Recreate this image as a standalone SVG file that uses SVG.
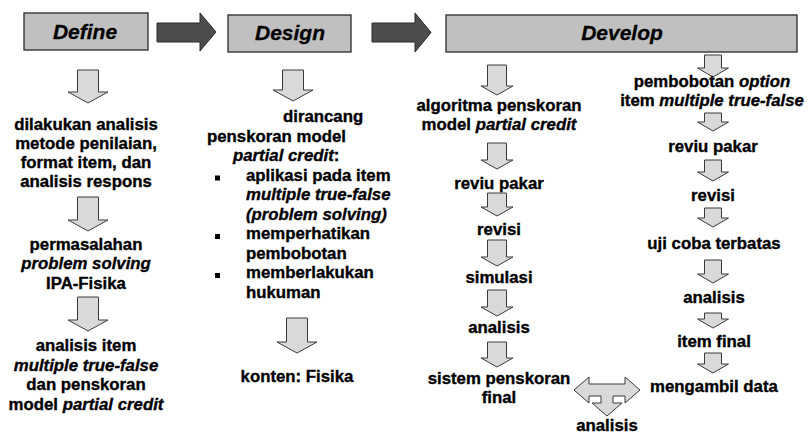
<svg xmlns="http://www.w3.org/2000/svg" width="808" height="436" viewBox="0 0 808 436">
<style>
  .hbox { fill: #c0c0c0; stroke: #2a2a2a; stroke-width: 1.3; }
  .harr { fill: #4d4d4d; stroke: #2a2a2a; stroke-width: 1; }
  .darr { fill: #d9d9d9; stroke: #3a3a3a; stroke-width: 1; }
  .ht { font-family: "Liberation Sans", Arial, sans-serif; font-weight: bold; font-style: italic; font-size: 21px; fill: #000; stroke: #000; stroke-width: 0.3; text-anchor: middle; }
  .t { font-family: "Liberation Sans", Arial, sans-serif; font-weight: bold; font-size: 16.8px; fill: #000; stroke: #000; stroke-width: 0.35; }
  .c { text-anchor: middle; }
  .i { font-style: italic; }
  .bul { fill: #000; }
</style>
<rect width="808" height="436" fill="#ffffff"/>

<g id="define-header">
  <rect class="hbox" x="24" y="13" width="124" height="37"/>
  <text class="ht" x="85" y="39">Define</text>
</g>
<g id="design-header">
  <rect class="hbox" x="228" y="15" width="123" height="37"/>
  <text class="ht" x="290" y="40">Design</text>
</g>
<g id="develop-header">
  <rect class="hbox" x="446" y="15" width="351" height="37"/>
  <text class="ht" x="622" y="40">Develop</text>
</g>

<g id="connectors">
  <path class="harr" d="M157,23 H200 V13 L216,32 L200,51 V42 H157 Z"/>
  <path class="harr" d="M372,23 H415 V13 L431,32.5 L415,52 V42 H372 Z"/>

  <path class="darr" d="M77.5,70 H98.5 V92 H108 L88,103 L68,92 H77.5 Z"/>
  <path class="darr" d="M77.5,197 H98.5 V220 H108 L88,231 L68,220 H77.5 Z"/>
  <path class="darr" d="M77.5,297 H98.5 V320 H108 L88,331 L68,320 H77.5 Z"/>

  <path class="darr" d="M282.5,70 H303.5 V90 H313 L293,101 L273,90 H282.5 Z"/>
  <path class="darr" d="M286.5,318 H307.5 V342 H317 L297,353 L277,342 H286.5 Z"/>

  <path class="darr" d="M487.5,65 H506.5 V86 H513 L497,95 L481,86 H487.5 Z"/>
  <path class="darr" d="M487.5,143 H506.5 V160 H513 L497,169 L481,160 H487.5 Z"/>
  <path class="darr" d="M487.5,193 H506.5 V207 H513 L497,216 L481,207 H487.5 Z"/>
  <path class="darr" d="M487.5,240 H506.5 V257 H513 L497,266 L481,257 H487.5 Z"/>
  <path class="darr" d="M487.5,290 H506.5 V307 H513 L497,316 L481,307 H487.5 Z"/>
  <path class="darr" d="M487.5,342 H506.5 V358 H513 L497,367 L481,358 H487.5 Z"/>

  <path class="darr" d="M704.5,55 H721.5 V68 H728.5 L713,77 L697.5,68 H704.5 Z"/>
  <path class="darr" d="M704.5,113 H721.5 V122 H728.5 L713,131 L697.5,122 H704.5 Z"/>
  <path class="darr" d="M704.5,160 H721.5 V172 H728.5 L713,181 L697.5,172 H704.5 Z"/>
  <path class="darr" d="M704.5,208 H721.5 V218 H728.5 L713,227 L697.5,218 H704.5 Z"/>
  <path class="darr" d="M704.5,260 H721.5 V274 H728.5 L713,283 L697.5,274 H704.5 Z"/>
  <path class="darr" d="M704.5,313 H721.5 V319 H728.5 L713,328 L697.5,319 H704.5 Z"/>
  <path class="darr" d="M704.5,353 H721.5 V364 H728.5 L713,373 L697.5,364 H704.5 Z"/>

  <path class="darr" d="M574,390 L589,377 L589,384 L625,384 L625,377 L640,390 L625,403 L625,396 L613,396 L613,403 L622,403 L607,416 L592,403 L601,403 L601,396 L589,396 L589,403 Z"/>
</g>

<g id="define-analisis">
  <text class="t c" x="86" y="130">dilakukan analisis</text>
  <text class="t c" x="86" y="149">metode penilaian,</text>
  <text class="t c" x="86" y="168">format item, dan</text>
  <text class="t c" x="86" y="187">analisis respons</text>
</g>
<g id="define-permasalahan">
  <text class="t c" x="86" y="250">permasalahan</text>
  <text class="t c i" x="86" y="269">problem solving</text>
  <text class="t c" x="86" y="289">IPA-Fisika</text>
</g>
<g id="define-analisis-item">
  <text class="t c" x="86" y="351">analisis item</text>
  <text class="t c i" x="86" y="371">multiple true-false</text>
  <text class="t c" x="86" y="390">dan penskoran</text>
  <text class="t c" x="86" y="410">model <tspan class="i">partial credit</tspan></text>
</g>

<g id="design-dirancang">
  <text class="t" x="283" y="122">dirancang</text>
  <text class="t" x="207" y="141.5">penskoran model</text>
  <text class="t" x="233" y="161"><tspan class="i">partial credit</tspan>:</text>
  <rect class="bul" x="215" y="175.5" width="5" height="5"/>
  <text class="t" x="246" y="180.5">aplikasi pada item</text>
  <text class="t i" x="246" y="200">multiple true-false</text>
  <text class="t i" x="246" y="219.5">(problem solving)</text>
  <rect class="bul" x="215" y="234" width="5" height="5"/>
  <text class="t" x="246" y="239">memperhatikan</text>
  <text class="t" x="246" y="258.5">pembobotan</text>
  <rect class="bul" x="215" y="273" width="5" height="5"/>
  <text class="t" x="246" y="278">memberlakukan</text>
  <text class="t" x="246" y="297.5">hukuman</text>
</g>
<g id="design-konten">
  <text class="t c" x="297" y="382">konten: Fisika</text>
</g>

<g id="dev-algoritma">
  <text class="t c" x="499" y="111">algoritma penskoran</text>
  <text class="t c" x="499" y="130">model <tspan class="i">partial credit</tspan></text>
</g>
<g id="dev-reviu-1"><text class="t c" x="499" y="189">reviu pakar</text></g>
<g id="dev-revisi-1"><text class="t c" x="499" y="235">revisi</text></g>
<g id="dev-simulasi"><text class="t c" x="499" y="283">simulasi</text></g>
<g id="dev-analisis-1"><text class="t c" x="499" y="333">analisis</text></g>
<g id="dev-sistem">
  <text class="t c" x="499" y="384">sistem penskoran</text>
  <text class="t c" x="499" y="403">final</text>
</g>

<g id="dev-pembobotan">
  <text class="t c" x="712" y="87">pembobotan <tspan class="i">option</tspan></text>
  <text class="t c" x="712" y="106">item <tspan class="i">multiple true-false</tspan></text>
</g>
<g id="dev-reviu-2"><text class="t c" x="713" y="152">reviu pakar</text></g>
<g id="dev-revisi-2"><text class="t c" x="713" y="201">revisi</text></g>
<g id="dev-uji"><text class="t c" x="714" y="249">uji coba terbatas</text></g>
<g id="dev-analisis-2"><text class="t c" x="714" y="303">analisis</text></g>
<g id="dev-item-final"><text class="t c" x="714" y="347">item final</text></g>
<g id="dev-mengambil"><text class="t c" x="714" y="392">mengambil data</text></g>
<g id="dev-analisis-3"><text class="t c" x="607" y="431">analisis</text></g>
</svg>
